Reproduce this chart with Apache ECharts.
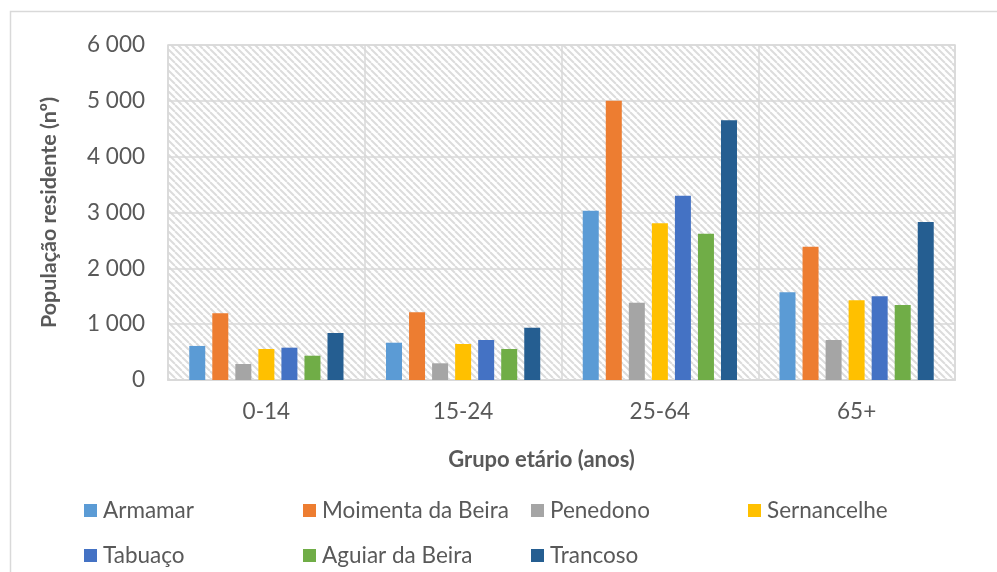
<!DOCTYPE html>
<html>
<head>
<meta charset="utf-8">
<script src="https://cdn.jsdelivr.net/npm/echarts@6/dist/echarts.min.js"></script>
<style>
  html, body { margin: 0; padding: 0; background: #ffffff; }
  #chart { width: 997px; height: 572px; }
</style>
</head>
<body>
<div id="chart"></div>
<script>
// Age groups on the category axis
const ageGroups = ['0-14', '15-24', '25-64', '65+'];

// Resident population (nº) per municipality, one value per age group
const armamar     = [610, 668, 3032, 1571];
const moimenta    = [1195, 1212, 5000, 2388];
const penedono    = [287, 299, 1385, 716];
const sernancelhe = [555, 645, 2807, 1428];
const tabuaco     = [579, 716, 3301, 1499];
const aguiar      = [435, 555, 2620, 1343];
const trancoso    = [842, 937, 4651, 2830];

const seriesNames = ['Armamar', 'Moimenta da Beira', 'Penedono', 'Sernancelhe', 'Tabuaço', 'Aguiar da Beira', 'Trancoso'];
const seriesData  = [armamar, moimenta, penedono, sernancelhe, tabuaco, aguiar, trancoso];
const seriesColors = ['#5B9BD5', '#ED7D31', '#A5A5A5', '#FFC000', '#4472C4', '#70AD47', '#255E91'];

// Y axis ticks
const yMin = 0, yMax = 6000, yStep = 1000;

const FONT = 'Lato';
const TEXT = '#595959';
const GRID = '#d9d9d9';

// Diagonal hatch used as the plot background
function hatchTile() {
  const s = 7;
  const c = document.createElement('canvas');
  c.width = s; c.height = s;
  const g = c.getContext('2d');
  g.fillStyle = '#ffffff';
  g.fillRect(0, 0, s, s);
  g.strokeStyle = '#dcdcdc';
  g.lineWidth = 2;
  for (let k = -1; k <= 1; k++) {
    g.beginPath();
    g.moveTo(k * s, 0);
    g.lineTo(k * s + s, s);
    g.stroke();
  }
  return c;
}

const fmt = v => String(v).replace(/\B(?=(\d{3})+(?!\d))/g, ' ');

// Legend laid out in two rows, one legend block per municipality
const legendPos = [
  [84, 499], [303, 499], [531, 499], [748, 499],
  [84, 544], [303, 544], [531, 544]
];

const chart = echarts.init(document.getElementById('chart'), null, { renderer: 'canvas' });

chart.setOption({
  animation: false,
  backgroundColor: '#ffffff',
  textStyle: { fontFamily: FONT },
  graphic: [{
    type: 'rect',
    silent: true,
    z: -10,
    shape: { x: 10.5, y: 11.5, width: 1100, height: 700 },
    style: { fill: 'none', stroke: GRID, lineWidth: 1.5 }
  }],
  grid: {
    left: 168, top: 45, right: 42, bottom: 192,
    show: true,
    backgroundColor: { image: hatchTile(), repeat: 'repeat' },
    borderColor: GRID,
    borderWidth: 1.5
  },
  legend: seriesNames.map((n, i) => ({
    data: [n],
    left: legendPos[i][0],
    top: legendPos[i][1],
    padding: 0,
    itemWidth: 13,
    itemHeight: 13,
    icon: 'rect',
    textStyle: { color: TEXT, fontSize: 22.5, fontFamily: FONT, lineHeight: 23, padding: [0, 0, 0, 1] }
  })),
  xAxis: {
    type: 'category',
    data: ageGroups,
    axisLine: { show: true, lineStyle: { color: GRID, width: 2 } },
    axisTick: { show: false },
    axisLabel: { color: TEXT, fontSize: 22.5, fontFamily: FONT, margin: 20 },
    splitLine: { show: true, interval: 0, lineStyle: { color: GRID, width: 1.5 } },
    name: 'Grupo etário (anos)',
    nameLocation: 'middle',
    nameGap: 69,
    nameTextStyle: { color: TEXT, fontSize: 22, fontWeight: 'bold', fontFamily: FONT, padding: [0, 40, 0, 0] }
  },
  yAxis: {
    type: 'value',
    min: yMin, max: yMax, interval: yStep,
    axisLine: { show: false },
    axisTick: { show: false },
    axisLabel: { color: TEXT, fontSize: 22.5, fontFamily: FONT, margin: 23, formatter: fmt },
    splitLine: { show: true, lineStyle: { color: GRID, width: 1.5 } },
    name: 'População residente (nº)',
    nameLocation: 'middle',
    nameGap: 108,
    nameTextStyle: { color: TEXT, fontSize: 21.5, fontWeight: 'bold', fontFamily: FONT }
  },
  series: seriesNames.map((n, i) => ({
    name: n,
    type: 'bar',
    data: seriesData[i],
    barWidth: 16,
    barGap: '44%',
    itemStyle: { color: seriesColors[i] }
  }))
});
</script>
</body>
</html>
